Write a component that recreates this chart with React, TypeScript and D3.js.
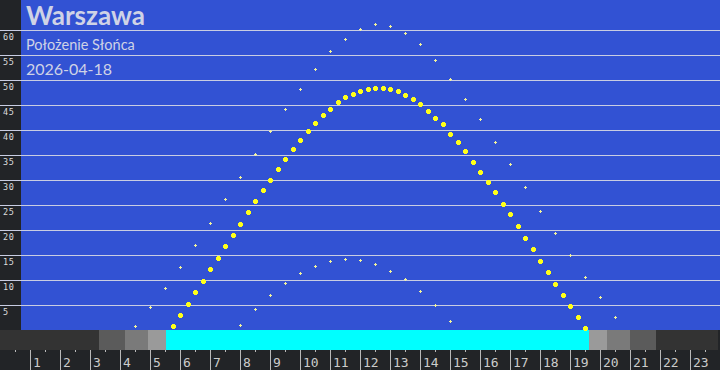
import React from "react";
import * as d3 from "d3";

const W = 720;
const H = 370;

const title = "Warszawa";
const subtitle = "Położenie Słońca";
const dateLabel = "2026-04-18";

// Today's sun altitude, every 15 minutes
const todayTimes = [
  "05:45", "06:00", "06:15", "06:30", "06:45", "07:00", "07:15", "07:30", "07:45",
  "08:00", "08:15", "08:30", "08:45", "09:00", "09:15", "09:30", "09:45",
  "10:00", "10:15", "10:30", "10:45", "11:00", "11:15", "11:30", "11:45",
  "12:00", "12:15", "12:30", "12:45", "13:00", "13:15", "13:30", "13:45",
  "14:00", "14:15", "14:30", "14:45", "15:00", "15:15", "15:30", "15:45",
  "16:00", "16:15", "16:30", "16:45", "17:00", "17:15", "17:30", "17:45",
  "18:00", "18:15", "18:30", "18:45", "19:00", "19:15", "19:30",
];
const todayAlt = [
  0.9, 3.1, 5.3, 7.7, 9.9, 12.3, 14.5, 16.9, 19.1,
  21.3, 23.7, 25.9, 28.1, 30.1, 32.3, 34.3, 36.3,
  38.1, 39.9, 41.5, 42.9, 44.3, 45.5, 46.5, 47.3,
  47.9, 48.3, 48.5, 48.5, 48.3, 47.9, 47.1, 46.3,
  45.3, 43.9, 42.5, 41.1, 39.3, 37.5, 35.7, 33.7,
  31.7, 29.7, 27.5, 25.3, 23.1, 20.9, 18.5, 16.3,
  13.9, 11.7, 9.3, 7.1, 4.9, 2.7, 0.5,
];

// Summer solstice, every 30 minutes
const summerTimes = [
  "04:30", "05:00", "05:30", "06:00", "06:30", "07:00", "07:30", "08:00", "08:30",
  "09:00", "09:30", "10:00", "10:30", "11:00", "11:30", "12:00", "12:30",
  "13:00", "13:30", "14:00", "14:30", "15:00", "15:30", "16:00", "16:30",
  "17:00", "17:30", "18:00", "18:30", "19:00", "19:30", "20:00", "20:30",
];
const summerAlt = [
  0.9, 4.7, 8.5, 12.7, 17.1, 21.5, 26.1, 30.7, 35.3,
  39.9, 44.3, 48.3, 52.3, 55.7, 58.3, 60.3, 61.1,
  60.7, 59.5, 57.1, 54.1, 50.3, 46.3, 42.1, 37.5,
  33.1, 28.5, 23.9, 19.3, 14.9, 10.7, 6.7, 2.7,
];

// Winter solstice, every 30 minutes
const winterTimes = [
  "08:00", "08:30", "09:00", "09:30", "10:00", "10:30", "11:00", "11:30",
  "12:00", "12:30", "13:00", "13:30", "14:00", "14:30", "15:00",
];
const winterAlt = [
  1.1, 4.3, 7.1, 9.5, 11.5, 12.9, 13.9, 14.3,
  14.1, 13.3, 11.9, 10.3, 7.9, 5.1, 1.9,
];

const yTicks = [5, 10, 15, 20, 25, 30, 35, 40, 45, 50, 55, 60];
const hourTicks = [1, 2, 3, 4, 5, 6, 7, 8, 9, 10, 11, 12, 13, 14, 15, 16, 17, 18, 19, 20, 21, 22, 23];
const halfHourTicks = hourTicks.map((h) => h - 0.5).concat([23.5]);

const bandEdges = ["00:00", "03:18", "04:10", "04:55", "05:31", "19:38", "20:14", "21:00", "21:52", "23:56"];
const bandKinds = ["night", "astro", "nautical", "civil", "day", "civil", "nautical", "astro", "night"];
const bandColors: Record<string, string> = {
  night: "#333333",
  astro: "#5b5b5b",
  nautical: "#7a7a7a",
  civil: "#9a9a9a",
  day: "#00ffff",
};

const toH = (s: string) => {
  const [h, m] = s.split(":").map(Number);
  return h + m / 60;
};

const BIG = "M-1.5,-2.5H1.5V-1.5H2.5V1.5H1.5V2.5H-1.5V1.5H-2.5V-1.5H-1.5Z";
const SMALL = "M-0.5,-1.5H0.5V-0.5H1.5V0.5H0.5V1.5H-0.5V0.5H-1.5V-0.5H-0.5Z";

export default function App() {
  const plotBottom = 330;
  const x = d3.scaleLinear().domain([0, 24]).range([0, W]);
  const y = d3.scaleLinear().domain([0, 66]).range([plotBottom, 0]);
  const px = (t: string) => Math.round(x(toH(t))) + 0.5;
  const py = (a: number) => Math.round(y(a)) + 0.5;

  const bands = bandKinds.map((k, i) => ({
    kind: k,
    x0: x(toH(bandEdges[i])),
    x1: x(toH(bandEdges[i + 1])),
  }));

  return (
    <svg
      width={W}
      height={H}
      style={{ position: "absolute", left: 0, top: 0, display: "block" }}
    >
      <rect x={0} y={0} width={W} height={H} fill="#222427" />
      <rect x={21} y={0} width={W - 21} height={plotBottom} fill="#3252d3" />

      {yTicks.map((v) => (
        <g key={"g" + v}>
          <line
            x1={0}
            x2={W}
            y1={Math.round(y(v)) + 0.5}
            y2={Math.round(y(v)) + 0.5}
            stroke="#c9cde2"
            strokeWidth={1}
          />
          <text
            x={3}
            y={Math.round(y(v)) + 10}
            fontFamily="'DejaVu Sans Mono', monospace"
            fontSize={8.5}
            fill="#dddddd"
            letterSpacing={0.6}
          >
            {v}
          </text>
        </g>
      ))}

      <text x={26} y={25} fontFamily="Lato, sans-serif" fontWeight={700} fontSize={26} fill="#cfd3e6">
        {title}
      </text>
      <text x={26} y={50} fontFamily="Lato, sans-serif" fontSize={14.5} fill="#cfd3e6">
        {subtitle}
      </text>
      <text x={26} y={74.5} fontFamily="Lato, sans-serif" fontSize={16} fill="#cfd3e6">
        {dateLabel}
      </text>

      {bands.map((b, i) => (
        <rect
          key={"b" + i}
          x={b.x0}
          y={plotBottom}
          width={b.x1 - b.x0}
          height={20}
          fill={bandColors[b.kind]}
          shapeRendering="crispEdges"
        />
      ))}

      {hourTicks.map((h) => (
        <g key={"h" + h}>
          <line
            x1={Math.round(x(h)) + 0.5}
            x2={Math.round(x(h)) + 0.5}
            y1={350}
            y2={370}
            stroke="#b9b9b9"
          />
          <text
            x={x(h) + 3}
            y={366.5}
            fontFamily="'DejaVu Sans Mono', monospace"
            fontSize={13}
            fill="#cccccc"
          >
            {h}
          </text>
        </g>
      ))}
      {halfHourTicks.map((h) => (
        <line
          key={"hh" + h}
          x1={Math.round(x(h)) + 0.5}
          x2={Math.round(x(h)) + 0.5}
          y1={350}
          y2={352}
          stroke="#b9b9b9"
        />
      ))}

      {winterTimes.map((t, i) => (
        <path
          key={"w" + i}
          d={SMALL}
          transform={`translate(${px(t)},${py(winterAlt[i])})`}
          fill="#f4f49a"
          shapeRendering="crispEdges"
        />
      ))}
      {summerTimes.map((t, i) => (
        <path
          key={"s" + i}
          d={SMALL}
          transform={`translate(${px(t)},${py(summerAlt[i])})`}
          fill="#f4f49a"
          shapeRendering="crispEdges"
        />
      ))}
      {todayTimes.map((t, i) => (
        <path
          key={"t" + i}
          d={BIG}
          transform={`translate(${px(t)},${py(todayAlt[i])})`}
          fill="#ffff1a"
          shapeRendering="crispEdges"
        />
      ))}
    </svg>
  );
}
